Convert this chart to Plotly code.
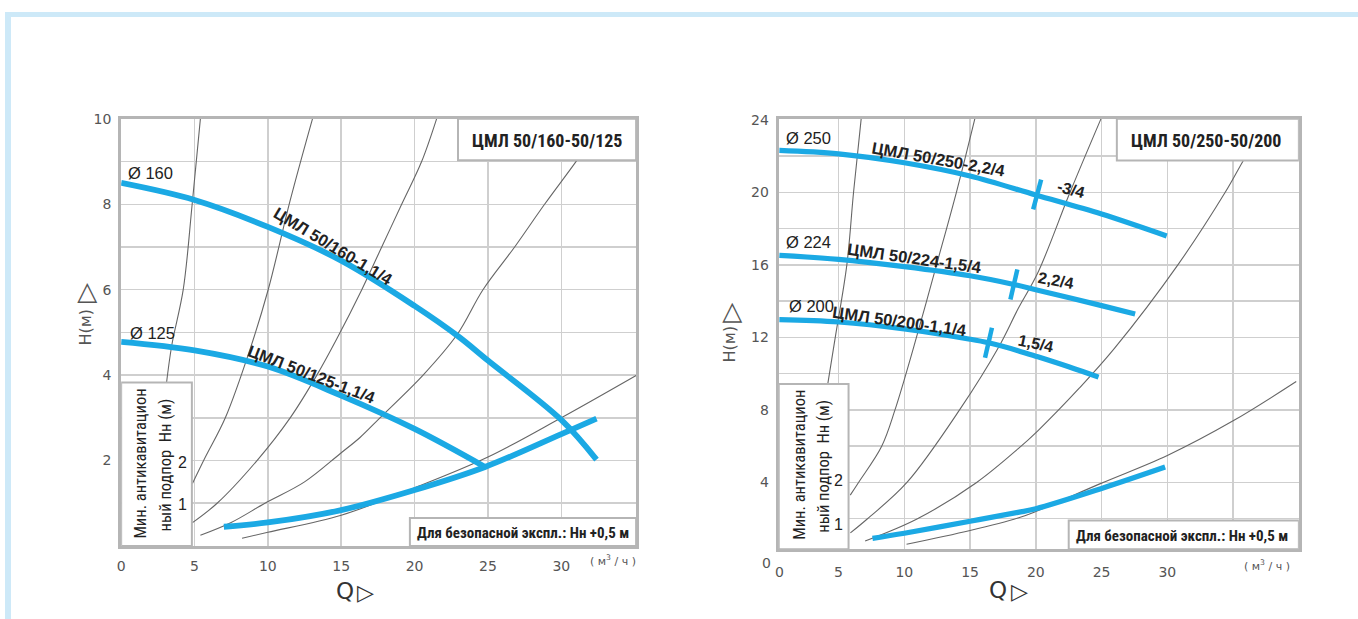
import plotly.graph_objects as go

W, H = 1358, 619
OX, OY = -3, -5   # compensation for the capture offset observed in the rendered page

# ---------------- data: left chart (ЦМЛ 50/160-50/125) ----------------
l_q160 = [0, 5, 10, 15, 20, 23, 25, 30, 32.4]
l_h160 = [8.5, 8.1, 7.47, 6.68, 5.62, 4.9, 4.34, 2.95, 2.02]
l_q125 = [0, 5, 10, 15, 20, 24.8]
l_h125 = [4.78, 4.58, 4.2, 3.52, 2.74, 1.85]
l_qnpsh = [7.0, 10, 15, 20, 24.8, 30, 32.4]
l_hnpsh = [0.45, 0.55, 0.84, 1.31, 1.85, 2.62, 2.98]
# thin grey curves
l_qA = [3.05, 3.45, 4.23, 4.84, 5.40]
l_hA = [3.7, 4.7, 6.0, 8.0, 10.0]
l_qB = [4.86, 5.74, 7.10, 8.80, 10.03, 11.52, 13.04]
l_hB = [1.46, 2.08, 3.0, 4.62, 6.01, 8.09, 10.0]
l_qC = [4.84, 6.54, 9.26, 11.52, 13.34, 14.7, 16.4, 17.76, 19.12, 20.48, 21.5]
l_hC = [0.54, 1.0, 2.0, 3.0, 4.0, 4.85, 6.0, 7.0, 8.0, 9.0, 10.0]
l_qD = [5.40, 7.5, 9.8, 12.5, 14.92, 16.28, 17.64, 20.58, 22.9, 24.66, 26.82, 28.86, 31.0, 32.2]
l_hD = [0.25, 0.55, 1.0, 1.5, 2.16, 2.54, 3.0, 4.0, 4.95, 6.0, 7.0, 8.0, 9.0, 9.6]
l_qE = [8.24, 10, 15, 20, 25, 30, 35.1]
l_hE = [0.18, 0.32, 0.72, 1.36, 2.08, 3.0, 3.99]
l_xticks = [0, 5, 10, 15, 20, 25, 30]
l_yticks = [2, 4, 6, 8, 10]
l_npsh_ticks = ["1", "2"]
l_npsh_pos = [0.97, 1.96]

# ---------------- data: right chart (ЦМЛ 50/250-50/200) ----------------
r_q250 = [0.5, 5, 10, 15, 20, 25, 29.95]
r_h250 = [22.31, 22.12, 21.63, 20.9, 19.85, 18.8, 17.59]
r_q224 = [0.5, 5, 10, 15, 18.33, 20.15, 25, 27.55]
r_h224 = [16.52, 16.3, 15.9, 15.4, 14.92, 14.6, 13.75, 13.29]
r_q200 = [0.5, 5, 10, 15, 16.4, 18.64, 20.15, 22.5, 24.77]
r_h200 = [12.98, 12.85, 12.47, 11.9, 11.7, 11.27, 10.93, 10.38, 9.81]
r_qnpsh = [7.58, 10, 15, 18.64, 20, 25, 29.83]
r_hnpsh = [0.92, 1.2, 1.86, 2.35, 2.55, 3.67, 4.85]
r_qA = [4.19, 4.75, 5.63, 6.14, 6.72]
r_hA = [9.48, 12.0, 16.0, 20.0, 24.05]
r_qB = [5.89, 6.52, 8.28, 9.29, 10.68, 12.45, 13.96, 15.36]
r_hB = [3.3, 4.0, 6.0, 8.0, 11.38, 16.0, 20.0, 24.05]
r_qC = [5.9, 7.2, 10.2, 14.2, 17.2, 18.64, 20.15, 22.6, 24.95]
r_hC = [1.22, 2.0, 4.0, 8.0, 11.5, 13.56, 15.56, 20.0, 24.05]
r_qD = [7.02, 11.0, 15.5, 18.64, 20.15, 23.3, 25.96, 30.8, 34.4, 35.76, 36.5]
r_hD = [0.77, 2.0, 4.0, 5.85, 6.85, 9.2, 11.38, 16.0, 20.0, 21.73, 22.6]
r_qE = [10.17, 15, 18.64, 20, 24.95, 30, 35, 39.8]
r_hE = [0.59, 1.35, 2.04, 2.4, 3.95, 5.49, 7.4, 9.57]
r_tick_q = [20.1, 18.33, 16.4]
r_tick_h = [19.88, 14.92, 11.7]
r_tick_labels = ["-3/4", "2,2/4", "1,5/4"]
r_xticks = [0.5, 5, 10, 15, 20, 25, 30]
r_xtext = ["0", "5", "10", "15", "20", "25", "30"]
r_yticks = [4, 8, 12, 16, 20, 24]
r_npsh_ticks = ["1", "2"]
r_npsh_pos = [1.70, 4.09]

# ---------------- styles ----------------
BLUE = "#1ba9e4"
GREY = "#666666"
GRID = "#cfcfcf"
FRAME = "#b5b5b5"
TXT = "#222222"
TICKC = "#555555"
NARROW = ("Roboto Condensed, Liberation Sans Narrow, Open Sans Condensed, "
          "Noto Sans Condensed, DejaVu Sans Condensed, Arial Narrow, Liberation Sans, sans-serif")
SANS = "Liberation Sans, Arial, sans-serif"
TICKF = "DejaVu Sans, sans-serif"


def px(x):
    return (x + OX) / W


def py(y):
    return 1 - (y + OY) / H


fig = go.Figure()


def line(q, h, ax, color, width):
    fig.add_trace(go.Scatter(
        x=q, y=h, mode="lines", xaxis=ax[0], yaxis=ax[1],
        line=dict(color=color, width=width, shape="spline", smoothing=1.0),
        hoverinfo="skip", showlegend=False))


LA = ("x", "y")
RA = ("x2", "y2")
for q, h in [(l_qA, l_hA), (l_qB, l_hB), (l_qC, l_hC), (l_qD, l_hD), (l_qE, l_hE)]:
    line(q, h, LA, GREY, 1.1)
for q, h in [(r_qA, r_hA), (r_qB, r_hB), (r_qC, r_hC), (r_qD, r_hD), (r_qE, r_hE)]:
    line(q, h, RA, GREY, 1.1)
for q, h in [(l_q160, l_h160), (l_q125, l_h125), (l_qnpsh, l_hnpsh)]:
    line(q, h, LA, BLUE, 5.8)
for q, h in [(r_q250, r_h250), (r_q224, r_h224), (r_q200, r_h200), (r_qnpsh, r_hnpsh)]:
    line(q, h, RA, BLUE, 5.2)

fig.add_trace(go.Scatter(
    x=r_tick_q, y=r_tick_h, mode="markers", xaxis="x2", yaxis="y2",
    marker=dict(symbol="line-ns", size=22, angle=[15, 13, 13],
                line=dict(color=BLUE, width=4.5)),
    hoverinfo="skip", showlegend=False))

ax_common = dict(showline=True, linecolor=FRAME, linewidth=3, mirror=True,
                 zeroline=False, gridcolor=GRID, gridwidth=1.5,
                 tickfont=dict(family=TICKF, size=14, color=TICKC),
                 ticks="outside", tickcolor="rgba(0,0,0,0)", fixedrange=True)

fig.update_layout(
    width=W, height=H, autosize=False,
    margin=dict(l=0, r=0, t=0, b=0),
    paper_bgcolor="white", plot_bgcolor="white", showlegend=False,
    xaxis=dict(domain=[px(120.5), px(637)], range=[0, 35.1], anchor="y",
               tickmode="array", tickvals=l_xticks, ticklen=5, showgrid=True, **ax_common),
    yaxis=dict(domain=[py(550), py(117.3)], range=[0, 10], anchor="x",
               tickmode="array", tickvals=l_yticks, ticklen=4, showgrid=True,
               minor=dict(tick0=0, dtick=1, showgrid=True, gridcolor=GRID, gridwidth=1.5, ticks=""),
               **ax_common),
    xaxis2=dict(domain=[px(780), px(1301.7)], range=[0.45, 40], anchor="y2",
                tickmode="array", tickvals=r_xticks, ticktext=r_xtext, ticklen=8, showgrid=True,
                minor=dict(tickmode="array", tickvals=[35], showgrid=True, gridcolor=GRID, gridwidth=1.5, ticks=""),
                **ax_common),
    yaxis2=dict(domain=[py(553.3), py(117.3)], range=[0.32, 24.05], anchor="x2",
                tickmode="array", tickvals=r_yticks, ticklen=4, showgrid=True,
                minor=dict(tick0=0, dtick=2, showgrid=True, gridcolor=GRID, gridwidth=1.5, ticks=""),
                **ax_common),
)

shapes = []
# outer light-blue frame
shapes.append(dict(type="rect", xref="paper", yref="paper", x0=px(4), x1=px(10), y0=0, y1=py(9),
                   fillcolor="#cde9f8", line=dict(width=0), layer="below"))
shapes.append(dict(type="rect", xref="paper", yref="paper", x0=px(4), x1=1, y0=py(14), y1=py(9),
                   fillcolor="#cde9f8", line=dict(width=0), layer="below"))


def box(xr, yr, x0, x1, y0, y1):
    shapes.append(dict(type="rect", xref=xr, yref=yr, x0=x0, x1=x1, y0=y0, y1=y1,
                       fillcolor="white", line=dict(color=FRAME, width=2), layer="above"))


# left chart boxes
box("x", "y", 22.96, 35.1, 9.03, 10)      # title
box("x", "y", 19.68, 35.1, 0, 0.654)      # safety note
box("x", "y", 0, 4.82, 0, 3.83)           # NPSH inset
# right chart boxes
box("x2", "y2", 26.16, 40, 21.76, 24.05)
box("x2", "y2", 22.5, 40, 0.32, 1.9)
box("x2", "y2", 0.45, 5.76, 0.32, 9.43)
fig.update_layout(shapes=shapes)

ann = []


def text(x, y, t, xr, yr, size=15, family=SANS, color=TXT, angle=0, bold=False, xanchor="center", yanchor="middle"):
    if bold:
        t = "<b>" + t + "</b>"
    ann.append(dict(x=x, y=y, xref=xr, yref=yr, text=t, showarrow=False, textangle=angle,
                    font=dict(size=size, family=family, color=color),
                    xanchor=xanchor, yanchor=yanchor))


# left chart texts
text(2.01, 8.74, "Ø 160", "x", "y", 16.5)
text(2.14, 4.99, "Ø 125", "x", "y", 16.5)
text(29.0, 9.5, "ЦМЛ 50/160-50/125", "x", "y", 18, NARROW, bold=True)
text(14.45, 7.03, "ЦМЛ 50/160-1,1/4", "x", "y", 16.5, SANS, angle=31, bold=True)
text(12.95, 4.02, "ЦМЛ 50/125-1,1/4", "x", "y", 16.5, SANS, angle=21, bold=True)
text(27.36, 0.30, "Для безопасной экспл.: Нн +0,5 м", "x", "y", 15, NARROW, bold=True)
text(1.33, 1.92, "Мин. антикавитацион", "x", "y", 16.5, NARROW, angle=-90)
text(3.03, 1.90, "ный подпор  Нн (м)", "x", "y", 16.5, NARROW, angle=-90)
for lab, pos in zip(l_npsh_ticks, l_npsh_pos):
    text(4.16, pos, lab, "x", "y", 16, SANS)

# right chart texts
text(2.73, 23.0, "Ø 250", "x2", "y2", 16.5)
text(2.73, 17.25, "Ø 224", "x2", "y2", 16.5)
text(2.95, 13.72, "Ø 200", "x2", "y2", 16.5)
text(12.58, 21.83, "ЦМЛ 50/250-2,2/4", "x2", "y2", 16.5, SANS, angle=10, bold=True)
text(10.76, 16.4, "ЦМЛ 50/224-1,5/4", "x2", "y2", 16.5, SANS, angle=8, bold=True)
text(9.62, 12.9, "ЦМЛ 50/200-1,1/4", "x2", "y2", 16.5, SANS, angle=8, bold=True)
for q, h, lab, dq, dh, a in zip(r_tick_q, r_tick_h, r_tick_labels, [2.55, 3.2, 3.6], [0.25, 0.2, -0.04], [15, 10, 12]):
    text(q + dq, h + dh, lab, "x2", "y2", 16, SANS, angle=a, bold=True)
text(32.95, 22.87, "ЦМЛ 50/250-50/200", "x2", "y2", 18, NARROW, bold=True)
text(31.14, 1.04, "Для безопасной экспл.: Нн +0,5 м", "x2", "y2", 15, NARROW, bold=True)
text(1.97, 4.96, "Мин. антикавитацион", "x2", "y2", 16.5, NARROW, angle=-90)
text(3.86, 4.9, "ный подпор  Нн (м)", "x2", "y2", 16.5, NARROW, angle=-90)
for lab, pos in zip(r_npsh_ticks, r_npsh_pos):
    text(5.0, pos, lab, "x2", "y2", 16, SANS)

# axis titles (paper)
text(px(85), py(328), "H(м)", "paper", "paper", 16, TICKF, TICKC, angle=-90)
text(px(85), py(294), "▷", "paper", "paper", 26, TICKF, TICKC, angle=-90)
text(px(731), py(345), "H(м)", "paper", "paper", 16, TICKF, TICKC, angle=-90)
text(px(731), py(314), "▷", "paper", "paper", 26, TICKF, TICKC, angle=-90)
text(px(345), py(596), "Q", "paper", "paper", 23, TICKF, "#333")
text(px(366), py(597), "▷", "paper", "paper", 22, TICKF, "#333")
text(px(1000), py(595), "Q", "paper", "paper", 23, TICKF, "#333")
text(px(1021), py(596), "▷", "paper", "paper", 22, TICKF, "#333")
text(px(614), py(565), "( м<sup>3</sup> / ч )", "paper", "paper", 11, TICKF, TICKC)
text(px(1270), py(570), "( м<sup>3</sup> / ч )", "paper", "paper", 11, TICKF, TICKC)
text(px(774), py(567), "0", "paper", "paper", 14, TICKF, TICKC, xanchor="right")

fig.update_layout(annotations=ann)
fig.write_html(
    "out.html",
    config={"displayModeBar": False, "staticPlot": True},
    post_script=("document.body.style.margin='0px';document.body.style.overflow='hidden';"
                 "var d=document.getElementsByClassName('plotly-graph-div')[0];"
                 "d.style.position='fixed';d.style.left='0px';d.style.top='0px';"),
)
